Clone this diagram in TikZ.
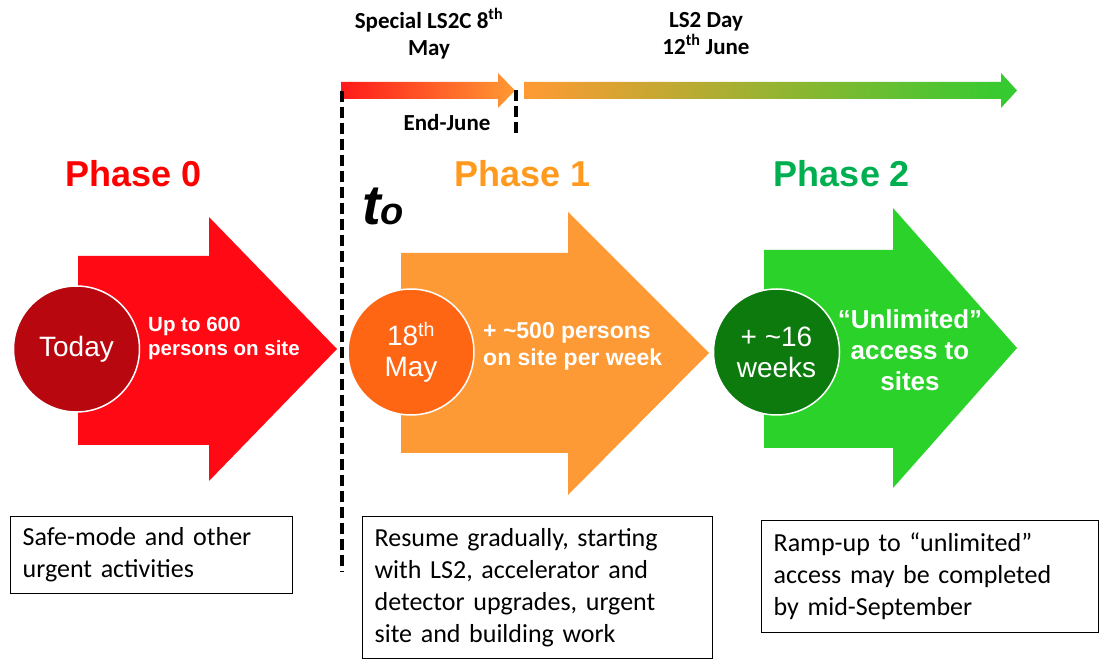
\documentclass[tikz,border=0pt]{standalone}
\usepackage{fontspec}
\setmainfont{Carlito}
\newfontfamily\arialf{Liberation Sans}
\definecolor{pzero}{HTML}{FF0A14}
\definecolor{pzerodark}{HTML}{B8070F}
\definecolor{pzerotxt}{HTML}{FF0000}
\definecolor{pone}{HTML}{FE9A36}
\definecolor{ponedark}{HTML}{FF6613}
\definecolor{ponetxt}{HTML}{FF9A1E}
\definecolor{ptwo}{HTML}{2AD22A}
\definecolor{ptwodark}{HTML}{0C7A0C}
\definecolor{ptwotxt}{HTML}{00B050}
\definecolor{tlred}{HTML}{FF1A1A}
\definecolor{tlorange}{HTML}{FF9A33}
\definecolor{tlgold}{HTML}{D8A82A}
\definecolor{tlgreen}{HTML}{30CC30}
\begin{document}
\begin{tikzpicture}[x=1pt,y=-1pt,
  toplabel/.style={font=\bfseries\fontsize{23}{27}\selectfont, align=center, inner sep=0pt},
  phasetitle/.style={font=\arialf\bfseries\fontsize{36}{40}\selectfont, anchor=base, inner sep=0pt},
  disc/.style={circle, minimum size=126pt, inner sep=0pt, draw=white, line width=1.5pt,
    text=white, align=center, font=\arialf\fontsize{28}{31}\selectfont},
  arrtext/.style={text=white, inner sep=0pt},
  notebox/.style={draw=black, line width=1.3pt, anchor=north west, align=left,
    inner xsep=12pt, inner ysep=0pt, font=\fontsize{26}{32}\selectfont},
  marker/.style={black, line width=4pt, dash pattern=on 11pt off 5pt}
]
\useasboundingbox (0,0) rectangle (1104,660);

% top timeline arrows
\shade[left color=tlred, right color=tlorange]
  (341,82) -- (498,82) -- (498,73) -- (515,90.5) -- (498,108) -- (498,99) -- (341,99) -- cycle;
\shade[left color=tlorange, middle color=tlgold, right color=tlgreen]
  (524,82) -- (1001,82) -- (1001,73) -- (1017,90.5) -- (1001,108) -- (1001,99) -- (524,99) -- cycle;

% dashed markers
\coordinate (m1top) at (342,91);
\coordinate (m1bot) at (342,572);
\coordinate (m2top) at (516,90);
\coordinate (m2bot) at (516,133);
\draw[marker] (m1top) -- (m1bot);
\draw[marker] (m2top) -- (m2bot);

% top labels
\node[toplabel] (special) at (429,34) {Special LS2C 8\textsuperscript{th}\\May};
\node[toplabel] (ls2day) at (706,34) {LS2 Day\\12\textsuperscript{th} June};
\node[toplabel] (endjune) at (447,123) {End-June};

% phase titles
\node[phasetitle, text=pzerotxt] (ph0) at (134,187) {Phase 0};
\node[phasetitle, text=ponetxt] (ph1) at (523,187) {Phase 1};
\node[phasetitle, text=ptwotxt] (ph2) at (842,187) {Phase 2};
\node[anchor=base west, inner sep=0pt] (tzero) at (362,225)
  {\arialf\bfseries\itshape\fontsize{56}{60}\selectfont t\fontsize{38}{40}\selectfont o};

% big arrows
\fill[pzero] (78,256) -- (209,256) -- (209,217) -- (337,349) -- (209,481) -- (209,445) -- (78,445) -- cycle;
\fill[pone] (401,253) -- (568,253) -- (568,212) -- (709,353) -- (568,495) -- (568,453) -- (401,453) -- cycle;
\fill[ptwo] (764,250) -- (893,250) -- (893,208) -- (1017,348) -- (893,488) -- (893,448) -- (764,448) -- cycle;

% discs
\node[disc, fill=pzerodark] (today) at (76.5,349) {Today};
\node[disc, fill=ponedark] (may18) at (411,352) {18\textsuperscript{th}\\May};
\node[disc, fill=ptwodark] (weeks) at (776.5,352) {+ \textasciitilde16\\weeks};

% arrow texts
\node[arrtext, anchor=west, align=left, font=\arialf\bfseries\fontsize{20.5}{24}\selectfont]
  (t0) at (148,338) {Up to 600\\persons on site};
\node[arrtext, anchor=west, align=left, font=\arialf\bfseries\fontsize{23}{27}\selectfont]
  (t1) at (483,346) {+ \textasciitilde500 persons\\on site per week};
\node[arrtext, align=center, font=\arialf\bfseries\fontsize{26}{31}\selectfont]
  (t2) at (910,350) {“Unlimited”\\access to\\sites};

% note boxes
\node[notebox, text width=258pt, minimum height=77pt] (n0) at (10,516)
  {Safe-mode and other\\urgent activities};
\node[notebox, text width=326pt, minimum height=142pt] (n1) at (362,516)
  {Resume gradually, starting\\with LS2, accelerator and\\detector upgrades, urgent\\site and building work};
\node[notebox, text width=313pt, minimum height=112pt] (n2) at (761,520)
  {Ramp-up to “unlimited”\\access may be completed\\by mid-September};
\end{tikzpicture}
\end{document}
